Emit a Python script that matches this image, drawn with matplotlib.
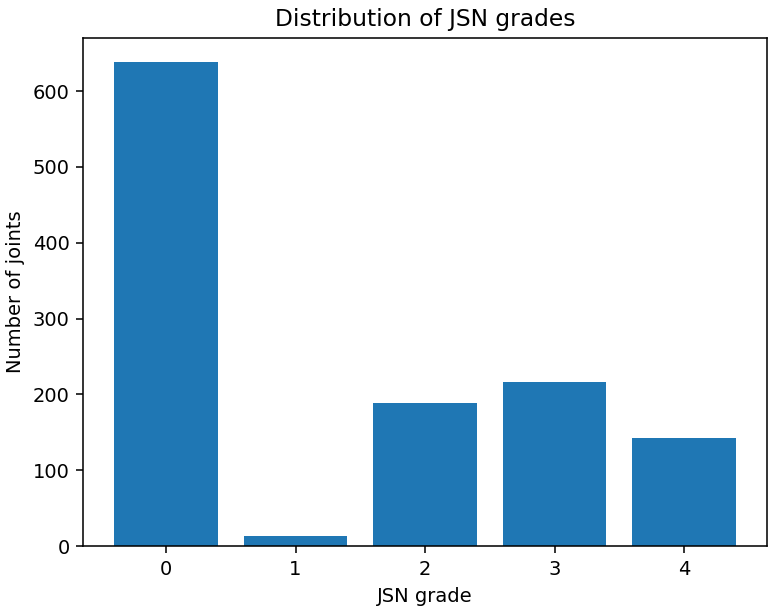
import matplotlib
matplotlib.use("Agg")
from matplotlib import pyplot as plt

grades = [0, 1, 2, 3, 4]
counts = [638, 13, 189, 217, 143]

dpi = 140
fig = plt.figure(figsize=(777 / dpi, 615 / dpi), dpi=dpi)
ax = fig.add_axes([0.107, 0.112, 0.880, 0.826])
ax.bar(grades, counts, color="#1f77b4")
ax.set_xticks(grades)
ax.set_title("Distribution of JSN grades")
ax.set_xlabel("JSN grade")
ax.set_ylabel("Number of joints")
fig.savefig("out.png", dpi=dpi)
